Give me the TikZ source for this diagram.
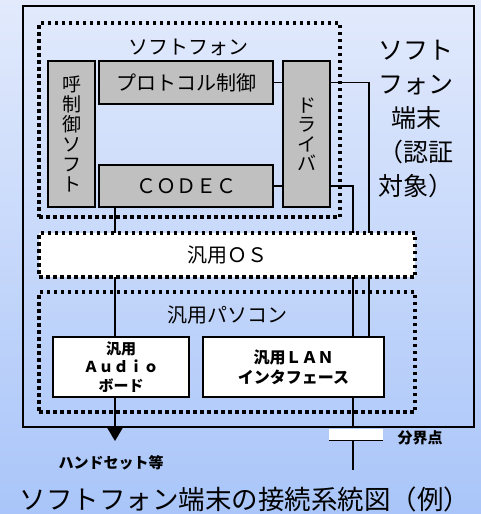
\documentclass[tikz,border=0pt]{standalone}
\usepackage{fontspec}
\setmainfont{Noto Sans CJK JP}
\usetikzlibrary{arrows.meta}
\definecolor{bgtop}{HTML}{E2EAFC}
\definecolor{bgbot}{HTML}{A9C5F9}
\definecolor{boxgray}{HTML}{C0C0C0}
\tikzset{
  solidbox/.style={draw, line width=1.6pt, inner sep=0pt, outer sep=0pt},
  graybox/.style={solidbox, fill=boxgray},
  whitebox/.style={solidbox, fill=white},
  dotbox/.style={draw, line width=3.5pt, dash pattern=on 3.5pt off 3.5pt, inner sep=0pt, outer sep=0pt},
  conn/.style={line width=1.6pt},
  lbl/.style={inner sep=0pt, align=center},
}
\newcommand{\fs}[2]{\fontsize{#1}{#2}\selectfont}
\begin{document}
\begin{tikzpicture}[x=1pt, y=-1pt]
\useasboundingbox (0,0) rectangle (481,514);
\shade[top color=bgtop, bottom color=bgbot] (0,0) rectangle (481,514);

% outer terminal frame
\node[solidbox, line width=1.8pt, minimum width=451pt, minimum height=421pt] (outer) at (248.5,216.5) {};

% softphone dotted box
\node[dotbox, minimum width=301pt, minimum height=194pt] (sp) at (189.5,120) {};
\node[lbl, font=\fs{20}{22}] (splbl) at (188,47) {ソフトフォン};

% inner boxes
\node[graybox, minimum width=47pt, minimum height=146pt, align=center, font=\fs{19}{20}] (call) at (71.5,134)
  {呼\\制\\御\\ソ\\フ\\ト};
\node[graybox, minimum width=174pt, minimum height=43pt, font=\fs{20}{22}] (proto) at (186,82.5) {プロトコル制御};
\node[graybox, minimum width=174pt, minimum height=42pt, font=\fs{20}{22}] (codec) at (186,186) {ＣＯＤＥＣ};
\node[graybox, minimum width=47pt, minimum height=146pt, align=center, font=\fs{19}{19.5}] (drv) at (306.5,134)
  {ド\\ラ\\イ\\バ};

% right label
\node[lbl, font=\fs{25}{34}] (termlbl) at (416,119) {ソフト\\フォン\\端末\\（認証\\対象）};

% connector anchors
\coordinate (c1) at (369,0);
\coordinate (c2) at (353,0);
\coordinate (c3) at (115,0);

% audio / LAN boxes
\node[whitebox, minimum width=136pt, minimum height=60pt, align=center, font=\bfseries\fs{15}{18.5}] (audio) at (121,367)
  {汎用\\Ａｕｄｉｏ\\ボード};
\node[whitebox, minimum width=181pt, minimum height=60pt, align=center, font=\bfseries\fs{16}{20}] (lan) at (293.5,367)
  {汎用ＬＡＮ\\インタフェース};

% connectors
\draw[conn] (proto.east) -- (proto.east -| drv.west);
\draw[conn] (codec.east) -- (codec.east -| drv.west);
\draw[conn] (proto.east -| drv.east) -| (c1 |- lan.north);
\draw[conn] (codec.east -| drv.east) -| (c2 |- lan.north);
\draw[conn] (c3 |- codec.south) -- (c3 |- audio.north);
\coordinate (hs) at (115,441);
\draw[conn, -{Triangle[width=15pt,length=13pt]}] (c3 |- audio.south) -- (hs);
\draw[conn] (c2 |- lan.south) -- (c2 |- outer.south);

% demarcation point
\node[fill=white, inner sep=0pt, outer sep=0pt, minimum width=54pt, minimum height=12pt] (bar) at (356,434.5) {};
\draw[conn] (bar.south west) -- (bar.south east);
\coordinate (lineend) at (353,470);
\draw[conn] (c2 |- bar.south) -- (lineend);
\node[lbl, font=\bfseries\fs{15}{16}] (bunkai) at (420,438) {分界点};
\node[lbl, font=\bfseries\fs{15}{16}] (handset) at (111,463) {ハンドセット等};

% general OS and PC boxes
\node[dotbox, fill=white, minimum width=376pt, minimum height=44pt] (os) at (227,255) {};
\node[lbl, font=\fs{20}{22}] (oslbl) at (227,255) {汎用ＯＳ};
\node[dotbox, minimum width=376pt, minimum height=120pt] (pc) at (227,352) {};
\node[lbl, font=\fs{20}{22}] (pclbl) at (227,315) {汎用パソコン};

% title
\node[lbl, font=\fs{26.5}{28}] (title) at (245,499.5) {ソフトフォン端末の接続系統図（例）};
\end{tikzpicture}
\end{document}
